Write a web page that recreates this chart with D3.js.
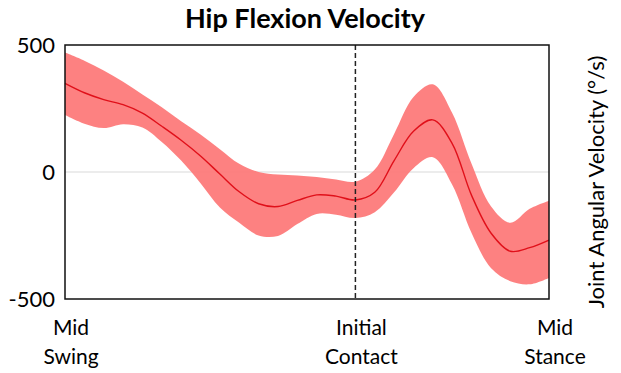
<!DOCTYPE html>
<html>
<head>
<meta charset="utf-8">
<script src="https://cdn.jsdelivr.net/npm/d3@7"></script>
<style>
  body { margin: 0; background: #fff; }
  svg { display: block; font-family: Lato, "Open Sans", sans-serif; }
</style>
</head>
<body>
<div class="chart"></div>
<script>
// gait cycle position, % (from mid swing to mid stance)
var pct   = [0, 4, 8, 12, 16, 20, 24, 28, 32, 36, 40, 44, 48, 52, 56, 60, 64, 68, 72, 76, 80, 84, 88, 92, 96, 100];
// mean hip flexion velocity, deg/s
var mean  = [349, 312, 285, 265, 232, 180, 125, 63, -8, -78, -125, -136, -112, -90, -95, -110, -80, 45, 160, 205, 112, -92, -240, -312, -298, -268];
// upper / lower edge of the shaded band
var upper = [470, 438, 400, 355, 305, 255, 200, 148, 90, 32, 0, -10, -14, -20, -30, -38, 10, 150, 295, 345, 232, 32, -135, -200, -145, -113];
var lower = [224, 190, 173, 188, 175, 118, 45, -44, -140, -200, -250, -252, -205, -165, -168, -181, -158, -80, 15, 58, -50, -240, -378, -430, -442, -417];

var yTicks = [-500, 0, 500];
var events = [
  {x: 0,  lines: ["Mid", "Swing"]},
  {x: 60, lines: ["Initial", "Contact"]},
  {x: 100, lines: ["Mid", "Stance"]}
];
var contactPct = 60;

var W = 621, H = 373;
var plotL = 65, plotR = 549, plotT = 45, plotB = 299;

var svg = d3.select(".chart").append("svg")
  .attr("width", W)
  .attr("height", H);

var x = d3.scaleLinear().domain([0, 100]).range([plotL, plotR]);
var y = d3.scaleLinear().domain([-500, 500]).range([plotB, plotT]);

var rows = pct.map(function(p, i) {
  return {p: p, m: mean[i], hi: upper[i], lo: lower[i]};
});

// zero line
svg.append("line")
  .attr("x1", x(0)).attr("x2", x(100))
  .attr("y1", y(0)).attr("y2", y(0))
  .attr("stroke", "#cfcfcf")
  .attr("stroke-width", 0.8);

// band
var area = d3.area()
  .x(function(d) { return x(d.p); })
  .y0(function(d) { return y(d.lo); })
  .y1(function(d) { return y(d.hi); })
  .curve(d3.curveCatmullRom);

svg.append("path")
  .datum(rows)
  .attr("d", area)
  .attr("fill", "#fd7a7a")
  .attr("fill-opacity", 0.95);

// mean line
var line = d3.line()
  .x(function(d) { return x(d.p); })
  .y(function(d) { return y(d.m); })
  .curve(d3.curveCatmullRom);

svg.append("path")
  .datum(rows)
  .attr("d", line)
  .attr("fill", "none")
  .attr("stroke", "#e0101a")
  .attr("stroke-width", 1.4);

// initial contact marker
svg.append("line")
  .attr("x1", x(contactPct)).attr("x2", x(contactPct))
  .attr("y1", plotT).attr("y2", plotB)
  .attr("stroke", "#222")
  .attr("stroke-width", 1.5)
  .attr("stroke-dasharray", "5,3");

// frame
svg.append("rect")
  .attr("x", plotL).attr("y", plotT)
  .attr("width", plotR - plotL).attr("height", plotB - plotT)
  .attr("fill", "none")
  .attr("stroke", "#111")
  .attr("stroke-width", 1.5);

// y axis labels (plain hyphen for the minus, as in the original)
var yAxis = d3.axisLeft(y).tickValues(yTicks).tickSize(0).tickPadding(10)
  .tickFormat(function(d) { return String(d); });
var gy = svg.append("g").attr("transform", "translate(" + plotL + ",0)").call(yAxis);
gy.select(".domain").remove();
gy.selectAll("text")
  .attr("font-family", "Lato, 'Open Sans', sans-serif")
  .attr("font-size", 22)
  .attr("fill", "#000");

// gait event labels
var ev = svg.selectAll(".event").data(events).enter().append("text")
  .attr("class", "event")
  .attr("text-anchor", "middle")
  .attr("font-size", 21)
  .attr("fill", "#000");
ev.selectAll("tspan").data(function(d) { return d.lines.map(function(t) { return {t: t, x: d.x}; }); })
  .enter().append("tspan")
  .attr("x", function(d) { return x(d.x) + 6; })
  .attr("y", function(d, i) { return 335 + i * 29; })
  .text(function(d) { return d.t; });

// title
svg.append("text")
  .attr("x", 305).attr("y", 28)
  .attr("text-anchor", "middle")
  .attr("font-size", 27)
  .attr("font-weight", "bold")
  .text("Hip Flexion Velocity");

// right axis title
svg.append("text")
  .attr("transform", "translate(604,182) rotate(-90)")
  .attr("text-anchor", "middle")
  .attr("font-size", 22)
  .text("Joint Angular Velocity (°/s)");
</script>
</body>
</html>
